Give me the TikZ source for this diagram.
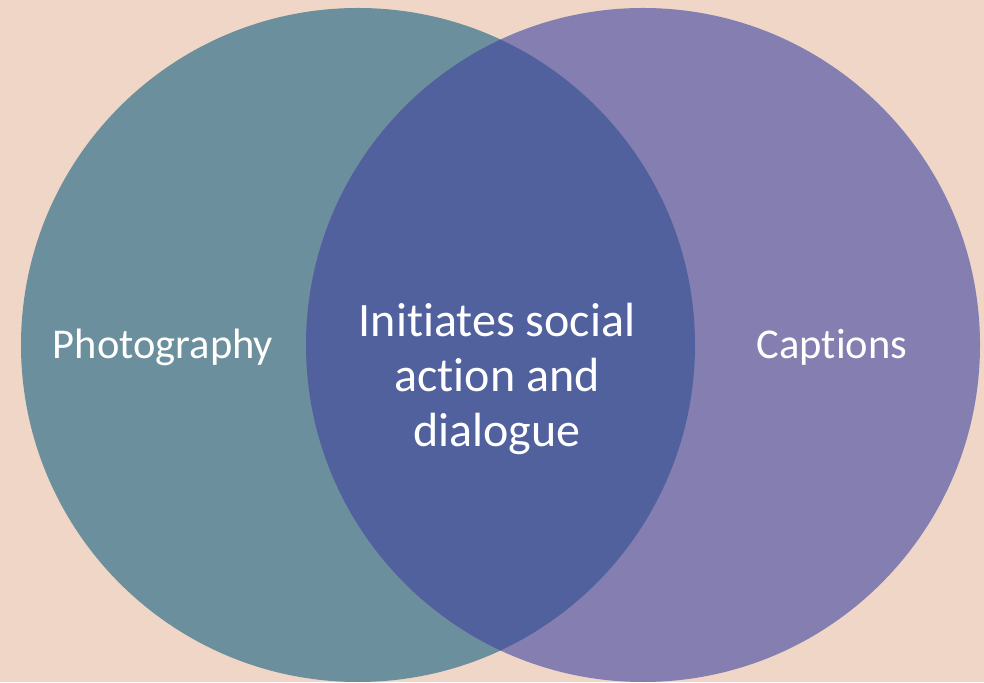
\documentclass[tikz,border=0pt]{standalone}
\usepackage{fontspec}
\setmainfont{Carlito}[Ligatures=NoCommon]
\definecolor{backdrop}{HTML}{EFD6C7}
\definecolor{photoset}{HTML}{6B8F9C}
\definecolor{captionset}{HTML}{857EB0}
\definecolor{overlap}{HTML}{51619D}
\begin{document}
\begin{tikzpicture}[
    x=1pt, y=1pt,
    set/.style={circle, inner sep=0pt, minimum size=674pt},
    setlabel/.style={text=white, font=\fontsize{42.5}{55}\selectfont, align=center, anchor=base}
]
\fill[backdrop] (0,0) rectangle (984,682);
\useasboundingbox (0,0) rectangle (984,682);
\node[set, fill=photoset] (photo) at (358,337) {};
\node[set, fill=captionset] (caption) at (643,337) {};
\begin{scope}
    \clip (photo.center) circle[radius=337];
    \fill[overlap] (caption.center) circle[radius=337];
\end{scope}
\node[setlabel] (photolabel) at (163,323) {Photography};
\node[setlabel] (captionlabel) at (832,323) {Captions};
\node[setlabel, font=\fontsize{48}{55}\selectfont] (both) at (497,235) {Initiates social\\action and\\dialogue};
\end{tikzpicture}
\end{document}
